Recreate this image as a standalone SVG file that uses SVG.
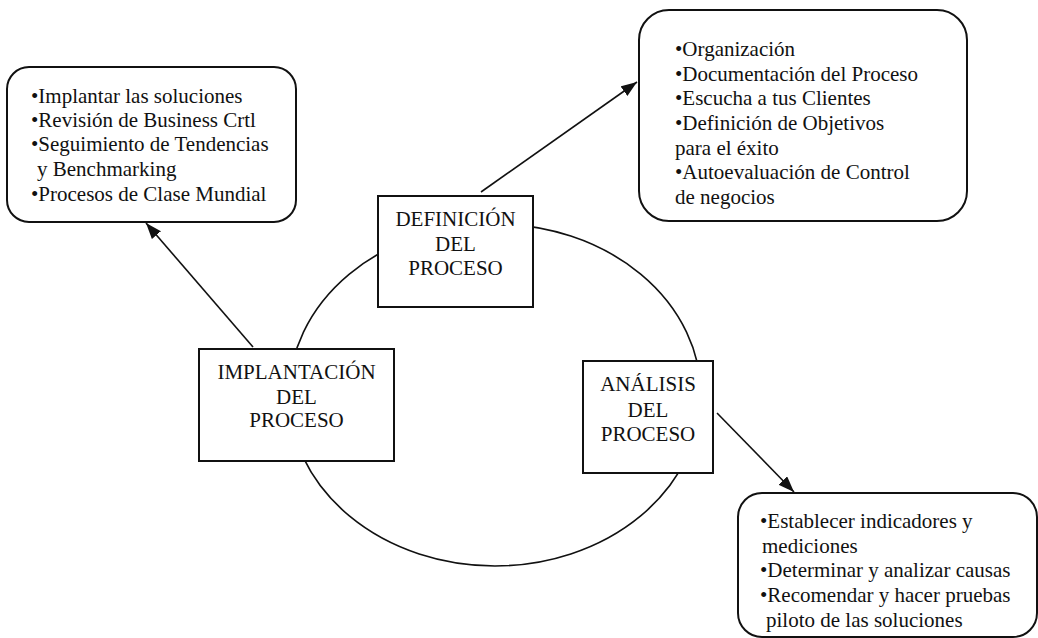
<svg xmlns="http://www.w3.org/2000/svg" width="1038" height="638" viewBox="0 0 1038 638">
<style>
  .t { font-family: "Liberation Serif", "Times New Roman", serif; font-size: 21px; fill: #111; }
  .c { text-anchor: middle; }
  .box { fill: #fff; stroke: #111; stroke-width: 2; }
  .conn { fill: none; stroke: #111; stroke-width: 1.6; }
</style>
<defs>
  <marker id="arr" markerUnits="userSpaceOnUse" markerWidth="18" markerHeight="14" refX="16" refY="6" orient="auto">
    <path d="M0,0 L16,6 L0,12 Z" fill="#111"/>
  </marker>
</defs>
<g id="cycle">
  <ellipse cx="495" cy="395" rx="206" ry="171" fill="none" stroke="#111" stroke-width="1.6"/>
</g>
<g id="connectors">
  <line class="conn" x1="253" y1="347" x2="146" y2="223" marker-end="url(#arr)"/>
  <line class="conn" x1="481" y1="192" x2="637" y2="82" marker-end="url(#arr)"/>
  <line class="conn" x1="717" y1="413" x2="794" y2="492" marker-end="url(#arr)"/>
</g>
<g id="implantacion-list">
  <rect class="box" x="7" y="67" width="289" height="155" rx="22" ry="22"/>
  <text class="t" x="31" y="103">•Implantar las soluciones</text>
  <text class="t" x="31" y="127">•Revisión de Business Crtl</text>
  <text class="t" x="31" y="151">•Seguimiento de Tendencias</text>
  <text class="t" x="37" y="176">y Benchmarking</text>
  <text class="t" x="31" y="201">•Procesos de Clase Mundial</text>
</g>
<g id="definicion-list">
  <rect class="box" x="639" y="10" width="328" height="211" rx="30" ry="30"/>
  <text class="t" x="675" y="56">•Organización</text>
  <text class="t" x="675" y="81">•Documentación del Proceso</text>
  <text class="t" x="675" y="105">•Escucha a tus Clientes</text>
  <text class="t" x="675" y="130">•Definición de Objetivos</text>
  <text class="t" x="675" y="155">para el éxito</text>
  <text class="t" x="675" y="179">•Autoevaluación de Control</text>
  <text class="t" x="675" y="204">de negocios</text>
</g>
<g id="analisis-list">
  <rect class="box" x="738" y="493" width="299" height="144" rx="24" ry="24"/>
  <text class="t" x="760" y="528">•Establecer indicadores y</text>
  <text class="t" x="762" y="553">mediciones</text>
  <text class="t" x="760" y="577">•Determinar y analizar causas</text>
  <text class="t" x="760" y="602">•Recomendar y hacer pruebas</text>
  <text class="t" x="766" y="627">piloto de las soluciones</text>
</g>
<g id="definicion">
  <rect class="box" x="378" y="196" width="155" height="111"/>
  <text class="t c" x="455.5" y="226">DEFINICIÓN</text>
  <text class="t c" x="455.5" y="251">DEL</text>
  <text class="t c" x="455.5" y="275">PROCESO</text>
</g>
<g id="implantacion">
  <rect class="box" x="199" y="349" width="195" height="112"/>
  <text class="t c" x="296.5" y="379">IMPLANTACIÓN</text>
  <text class="t c" x="296.5" y="404">DEL</text>
  <text class="t c" x="296.5" y="427">PROCESO</text>
</g>
<g id="analisis">
  <rect class="box" x="583" y="361" width="130" height="112"/>
  <text class="t c" x="648" y="391">ANÁLISIS</text>
  <text class="t c" x="648" y="417">DEL</text>
  <text class="t c" x="648" y="441">PROCESO</text>
</g>
</svg>
